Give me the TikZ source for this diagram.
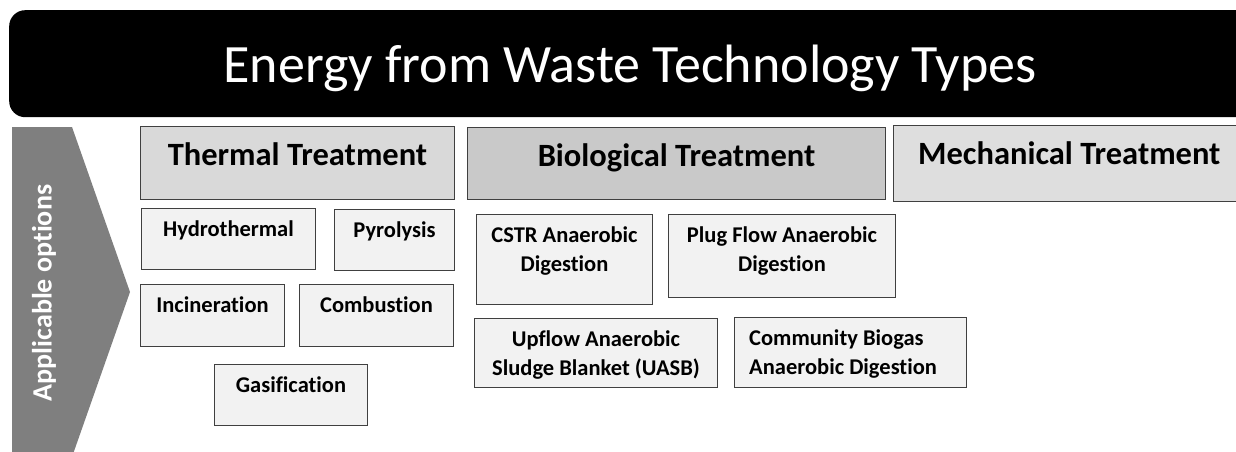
\documentclass[tikz,border=0pt]{standalone}
\usepackage{fontspec}
\setmainfont{Carlito}[Ligatures=NoCommon]
\usetikzlibrary{positioning}
\definecolor{chevgray}{HTML}{7F7F7F}
\definecolor{edgegray}{HTML}{404040}
\tikzset{
  headbox/.style={draw=edgegray, line width=1pt, anchor=north west, inner sep=0pt},
  headtext/.style={anchor=north, inner sep=0pt, font=\bfseries\fontsize{32.5}{38}\selectfont},
  optbox/.style={draw=edgegray, fill=black!5, line width=1pt, anchor=north west, inner sep=0pt},
  opttext/.style={anchor=north, inner sep=0pt, align=center, font=\bfseries\fontsize{22.5}{29}\selectfont},
}
\begin{document}
\begin{tikzpicture}[x=1pt,y=-1pt]
	\clip (0,0) rectangle (1236,452);
	% title bar
	\node[fill=black, rounded corners=16pt, anchor=north west, minimum width=1260pt, minimum height=107pt] (title) at (9,10) {};
	\node[anchor=base, text=white, font=\fontsize{54}{64}\selectfont] (titletext) at (630,82) {Energy from Waste Technology Types};
	% chevron
	\fill[chevgray] (12,127) -- (72,127) -- (130,292) -- (72,457) -- (12,457) -- cycle;
	\node[rotate=90, text=white, font=\bfseries\fontsize{28}{32}\selectfont] (applic) at (44,293) {Applicable options};
	% treatment headers
	\node[headbox, fill=black!15, minimum width=314pt, minimum height=73pt] (thermal) at (140,126) {};
	\node[headtext, below=16pt of thermal.north] (thermaltext) {Thermal Treatment};
	\node[headbox, fill=black!21, minimum width=418pt, minimum height=72pt] (bio) at (467,127) {};
	\node[headtext, below=16pt of bio.north] (biotext) {Biological Treatment};
	\node[headbox, fill=black!13, minimum width=360pt, minimum height=76pt] (mech) at (893,125) {};
	\node[headtext, anchor=north west, below right=16pt and 25pt of mech.north west] (mechtext) {Mechanical Treatment};
	% thermal options
	\node[optbox, minimum width=174pt, minimum height=61pt] (hydro) at (141,208) {};
	\node[opttext, below=13pt of hydro.north] {Hydrothermal};
	\node[optbox, minimum width=120pt, minimum height=61pt] (pyro) at (334,209) {};
	\node[opttext, below=13pt of pyro.north] {Pyrolysis};
	\node[optbox, minimum width=144pt, minimum height=62pt] (incin) at (140,284) {};
	\node[opttext, below=13pt of incin.north] {Incineration};
	\node[optbox, minimum width=154pt, minimum height=62pt] (combust) at (299,284) {};
	\node[opttext, below=13pt of combust.north] {Combustion};
	\node[optbox, minimum width=153pt, minimum height=61pt] (gasif) at (214,364) {};
	\node[opttext, below=13pt of gasif.north] {Gasification};
	% biological options
	\node[optbox, minimum width=176pt, minimum height=90pt] (cstr) at (476,214) {};
	\node[opttext, below=13pt of cstr.north] {CSTR Anaerobic\\Digestion};
	\node[optbox, minimum width=227pt, minimum height=83pt] (plug) at (668,214) {};
	\node[opttext, below=13pt of plug.north] {Plug Flow Anaerobic\\Digestion};
	\node[optbox, minimum width=243pt, minimum height=69pt] (uasb) at (474,318) {};
	\node[opttext, below=13pt of uasb.north] {Upflow Anaerobic\\Sludge Blanket (UASB)};
	\node[optbox, minimum width=232pt, minimum height=70pt] (commun) at (734,317) {};
	\node[opttext, anchor=north west, align=left, below right=13pt and 15pt of commun.north west] {Community Biogas\\Anaerobic Digestion};
\end{tikzpicture}
\end{document}
